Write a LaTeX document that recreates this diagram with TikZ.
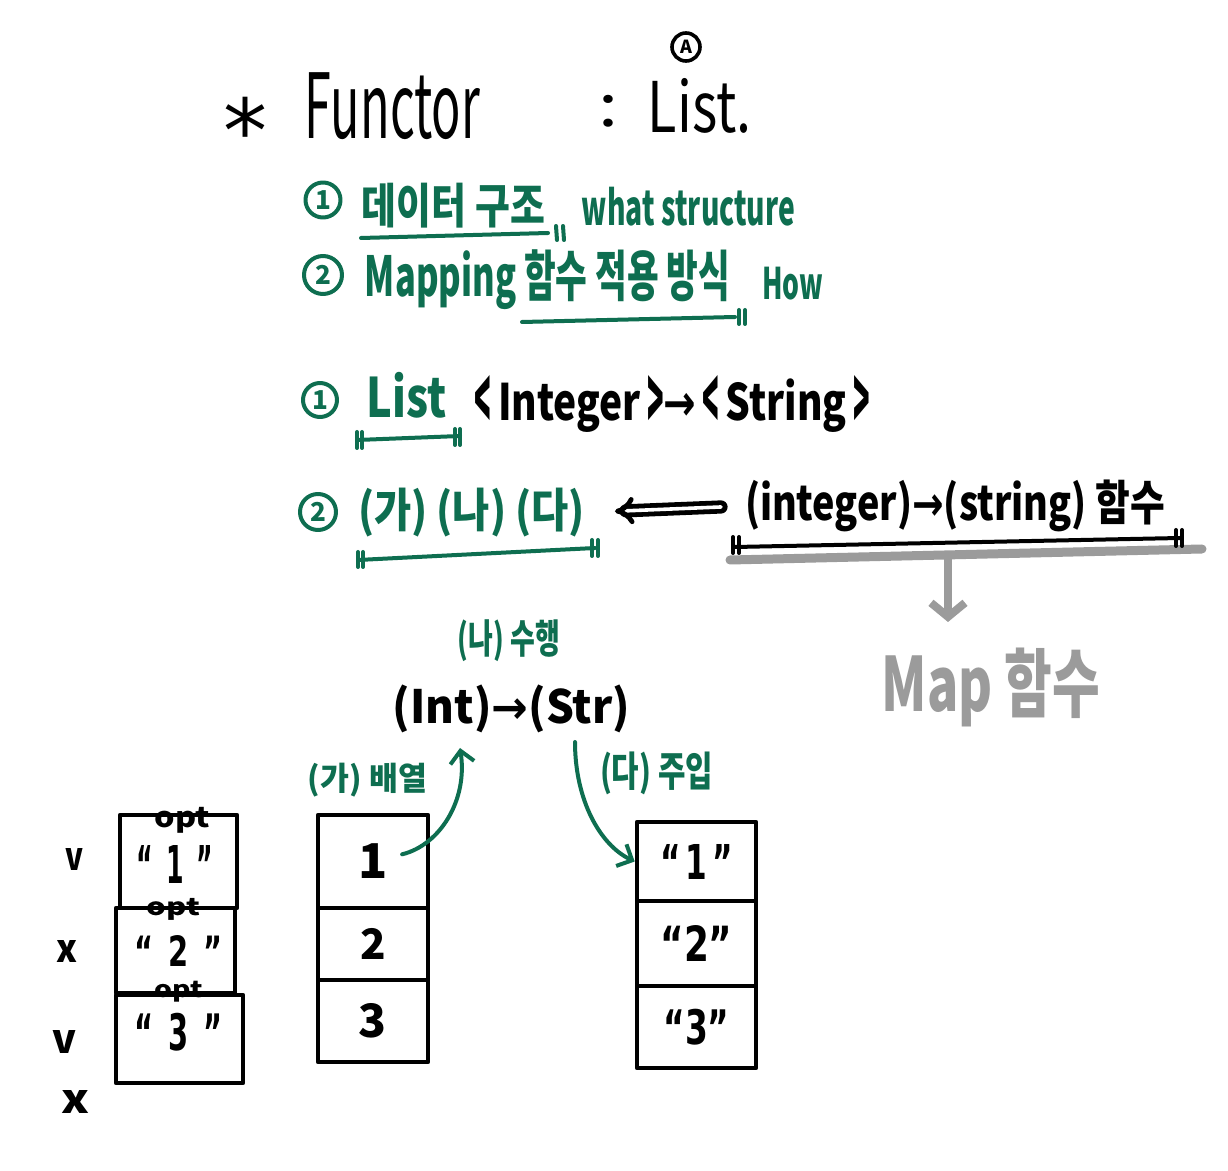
\documentclass[tikz,border=0pt]{standalone}
\usepackage{fontspec}
\usepackage{graphicx}
\setmainfont{Noto Sans CJK KR}
\newfontfamily\qf{DejaVu Sans}
\newfontfamily\sym{DejaVu Sans}
\usetikzlibrary{arrows.meta}
\definecolor{hgreen}{RGB}{14,110,80}
\definecolor{mgray}{RGB}{155,155,155}
\newdimen\pxu \pxu=0.5pt
\newcommand\fitto[3]{\resizebox*{#1\pxu}{#2\pxu}{#3}}
\newcommand\lab{\raisebox{-0.2em}{\scalebox{0.7}[1.7]{<}}}
\newcommand\rab{\raisebox{-0.2em}{\scalebox{0.7}[1.7]{>}}}
\newcommand\rarr{{\sym\bfseries →}}
\begin{document}
\begin{tikzpicture}[x=0.5pt,y=-0.5pt,line cap=round,line join=round,
  txt/.style={inner sep=0pt,outer sep=0pt,font=\bfseries},
  gtxt/.style={txt,text=hgreen},
  btxt/.style={txt,text=black},
  ttxt/.style={inner sep=0pt,outer sep=0pt,text=black,font=\mdseries},
  cell/.style={draw=black,line width=2.3pt,inner sep=0pt,text=black,font=\bfseries},
  cnum/.style={circle,draw=hgreen,text=hgreen,line width=2pt,inner sep=0pt,font=\fontsize{13}{13}\selectfont\bfseries},
  uline/.style={draw=hgreen,line width=2pt},
  bline/.style={draw=black,line width=2pt},
  garrow/.style={draw=hgreen,line width=2pt,-{Straight Barb[length=6pt,width=12pt,line width=2pt]}},
  dblarrow/.style={draw=black,line width=2.4pt,double,double distance=1.8pt,-{Implies[scale=1.4]}},
  grayline/.style={draw=mgray,line width=4.5pt},
  grayarrow/.style={draw=mgray,line width=4pt,-{Straight Barb[length=7pt,width=17pt,line width=4pt]}}]
\path[use as bounding box,fill=white] (0,0) rectangle (1228,1171);

% title
\node[ttxt,anchor=base] (star) at (245,163) {\fontsize{44}{44}\selectfont\qf *};
\node[ttxt] (functor) at (392.5,106.5) {\fitto{175}{67}{Functor}};
\node[ttxt] (colon) at (608.5,111) {\fitto{20}{32}{:}};
\node[ttxt] (list) at (700,105.5) {\fitto{104}{55}{List.}};
\node[circle,draw=black,line width=1.8pt,inner sep=0pt,minimum size=14pt,font=\fontsize{9}{9}\selectfont\bfseries] (circA) at (686,47) {A};

% green lines 1-2
\node[cnum,minimum size=17.5pt] (c1) at (323,200) {1};
\node[gtxt] (ds) at (453.5,205.5) {\fitto{183}{45}{데이터 구조}};
\node[gtxt] (what) at (688.5,206.5) {\fitto{213}{39}{what structure}};
\draw[uline] (361,238) -- (548,233);
\draw[uline] (556,226) -- (557,240) (563,226) -- (564,240);

\node[cnum,minimum size=19pt] (c2) at (323,275) {2};
\node[gtxt] (mapping) at (547.5,280) {\fitto{365}{60}{Mapping 함수 적용 방식}};
\node[gtxt] (how) at (792.5,283.5) {\fitto{61}{33}{How}};
\draw[uline] (522,322) -- (735,317);
\draw[uline] (739,310) -- (739,324) (745,310) -- (745,324);

% line 3
\node[cnum,minimum size=17pt] (c3) at (320,400) {1};
\node[gtxt] (glist) at (407,395) {\fitto{80}{46}{List}};
\node[btxt] (sig) at (672.5,403.5) {\fitto{395}{57}{\lab\,Integer\,\rab\rarr\,\lab\,String\,\rab}};
\draw[uline] (357,440) -- (460,436);
\draw[uline] (357,432) -- (357,448) (362,432) -- (362,448);
\draw[uline] (455,429) -- (455,445) (460,429) -- (460,445);

% line 4
\node[cnum,minimum size=18pt] (c4) at (318,512) {2};
\node[gtxt] (gnd) at (471.5,512.5) {\fitto{227}{49}{(가) (나) (다)}};
\draw[uline] (358,560) -- (595,548);
\draw[uline] (358,552) -- (358,567) (363,552) -- (363,567);
\draw[uline] (592,540) -- (592,556) (598,540) -- (598,556);
\node[btxt] (istr) at (955,506) {\fitto{420}{52}{(integer)\rarr(string) 함수}};
\draw[dblarrow] (istr.west) -- (gnd.east) [shorten <=12pt,shorten >=15pt];
\draw[grayline] (730,560) -- (1202,549);
\draw[bline] (735,547) -- (1180,538);
\draw[bline] (733,537) -- (733,553) (739,537) -- (739,553);
\draw[bline] (1176,530) -- (1176,546) (1182,530) -- (1182,546);
\node[txt,text=mgray] (mapf) at (991,687.5) {\fitto{218}{79}{Map 함수}};
\coordinate (gsplit) at (948,556);
\draw[grayarrow] (gsplit) -- (gsplit |- mapf.north) [shorten >=13pt];

% middle diagram
\node[gtxt] (perf) at (509,641) {\fitto{102}{42}{(나) 수행}};
\node[btxt] (intstr) at (511.5,709) {\fitto{237}{48}{(Int)\rarr(Str)}};
\node[gtxt] (arrl) at (367.5,780) {\fitto{119}{34}{(가) 배열}};
\node[gtxt] (inj) at (656.5,773.5) {\fitto{113}{43}{(다) 주입}};

\node[cell,minimum width=55pt,minimum height=46.5pt] (m1) at (373,861.5) {\fontsize{24}{24}\selectfont 1};
\node[cell,minimum width=55pt,minimum height=36pt] (m2) at (373,944) {\fontsize{21}{21}\selectfont 2};
\node[cell,minimum width=55pt,minimum height=41pt] (m3) at (373,1021) {\fontsize{23}{23}\selectfont 3};

\node[cell,minimum width=59.5pt,minimum height=39.5pt] (r1) at (696.5,861.5) {\fitto{73}{35}{\qf “\,1\,”}};
\node[cell,minimum width=59.5pt,minimum height=42.5pt] (r2) at (696.5,943.5) {\fitto{72}{36}{\qf “2”}};
\node[cell,minimum width=59.5pt,minimum height=41pt] (r3) at (696.5,1027) {\fitto{66}{36}{\qf “3”}};

\coordinate (intIn) at (460,748);
\coordinate (strOut) at (575,742);
\draw[garrow] (m1.center) [shorten <=15pt] .. controls (440,845) and (468,800) .. (intIn);
\draw[garrow] (strOut) .. controls (575,800) and (600,845) .. (r1.west);

% left column
\node[cell,minimum width=58.5pt,minimum height=46.5pt] (l1) at (178.5,861.5) {};
\node[cell,minimum width=59.5pt,minimum height=42.5pt] (l2) at (175.5,950.5) {};
\node[cell,minimum width=63.5pt,minimum height=44pt] (l3) at (179.5,1039) {};
\node[btxt] (q1) at (175,864) {\fitto{76}{38}{\qf “\enspace 1\enspace ”}};
\node[btxt] (q2) at (178.5,951) {\fitto{87}{31}{\qf “\enspace 2\enspace ”}};
\node[btxt] (q3) at (178.5,1032) {\fitto{87}{38}{\qf “\enspace 3\enspace ”}};
\node[btxt] (opt1) at (182.5,820) {\fitto{55}{26}{opt}};
\node[btxt] (opt2) at (173.5,909) {\fitto{53}{22}{opt}};
\node[btxt] (opt3) at (179,992) {\fitto{48}{21}{opt}};
\node[btxt] (v1) at (74,859) {\fitto{18}{22}{v}};
\node[btxt] (x1) at (67.5,951) {\fitto{21}{22}{x}};
\node[btxt] (v2) at (65,1041.5) {\fitto{24}{23}{v}};
\node[btxt] (x2) at (76,1101.5) {\fitto{28}{23}{x}};
\end{tikzpicture}
\end{document}
